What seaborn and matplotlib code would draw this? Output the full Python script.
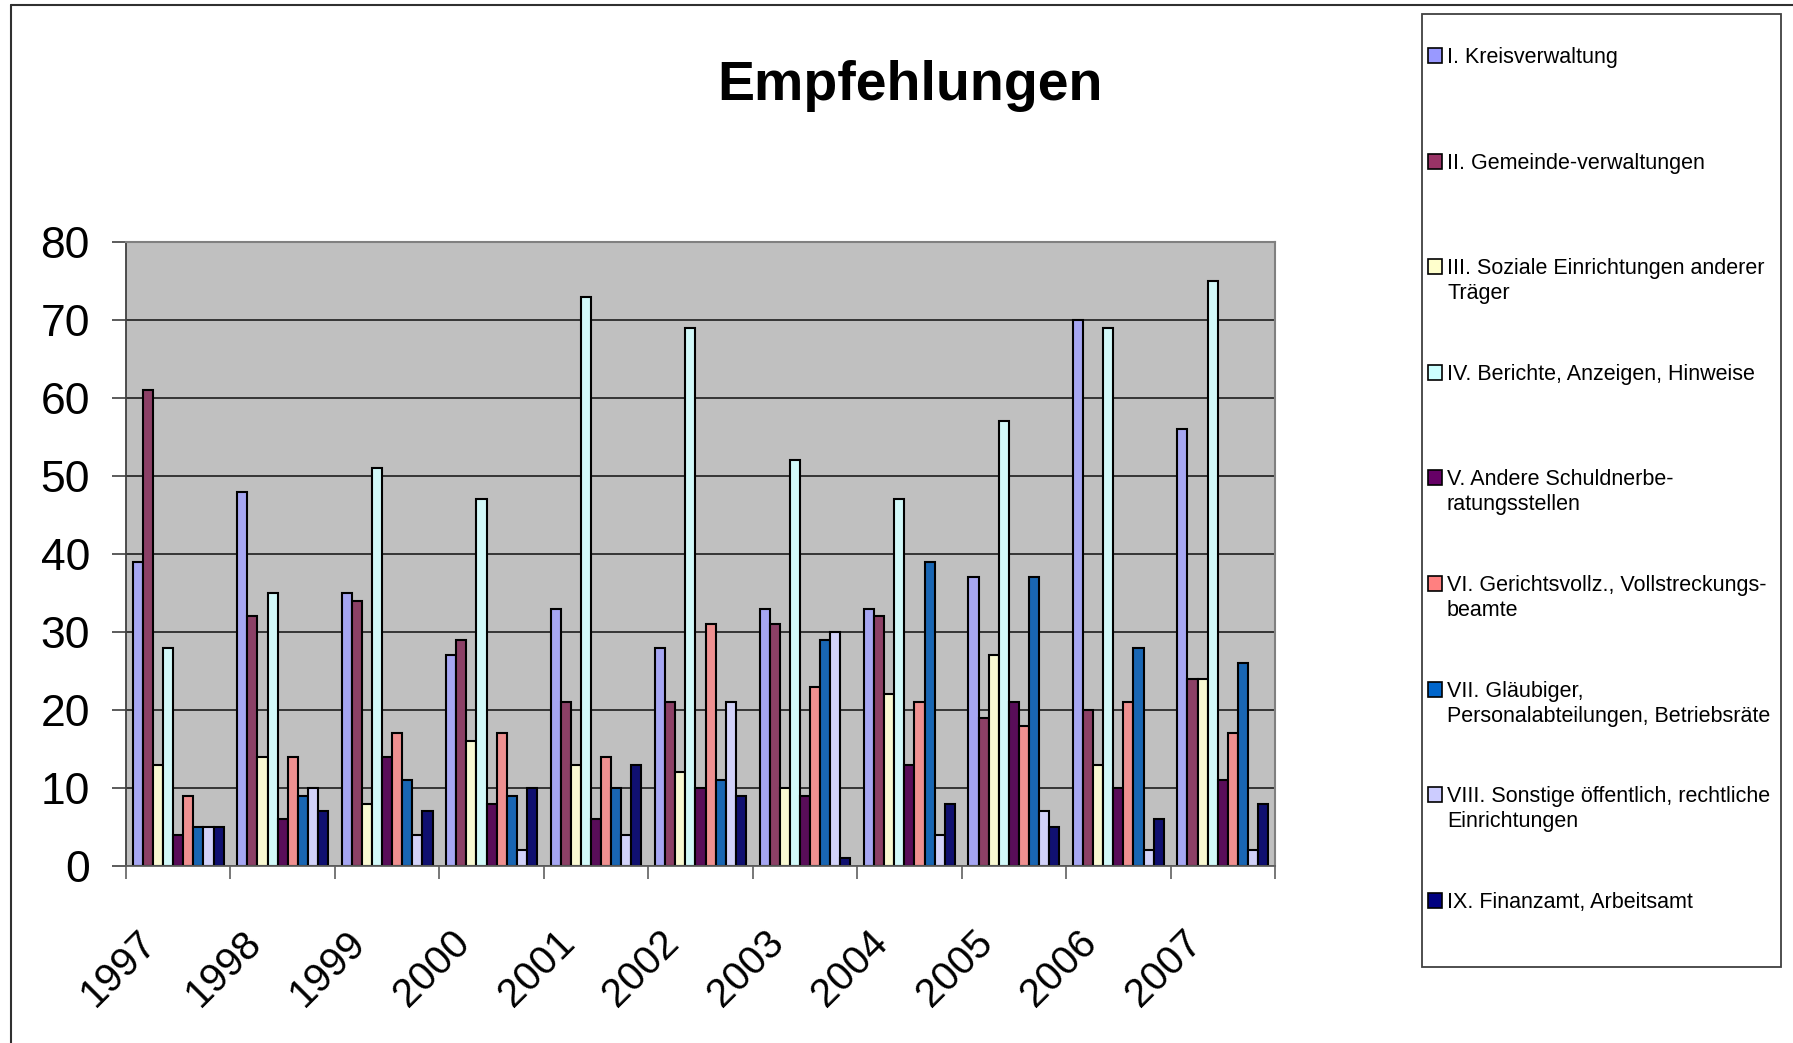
import numpy as np
import pandas as pd
import seaborn as sns
import matplotlib.pyplot as plt
from matplotlib.patches import Rectangle
from matplotlib.lines import Line2D
from matplotlib.transforms import ScaledTranslation

# Jahre und Kategorien
years = ["1997", "1998", "1999", "2000", "2001", "2002",
         "2003", "2004", "2005", "2006", "2007"]

labels = [
    "I. Kreisverwaltung",
    "II. Gemeinde-verwaltungen",
    "III. Soziale Einrichtungen anderer\nTräger",
    "IV. Berichte, Anzeigen, Hinweise",
    "V. Andere Schuldnerbe-\nratungsstellen",
    "VI. Gerichtsvollz., Vollstreckungs-\nbeamte",
    "VII. Gläubiger,\nPersonalabteilungen, Betriebsräte",
    "VIII. Sonstige öffentlich, rechtliche\nEinrichtungen",
    "IX. Finanzamt, Arbeitsamt",
]

# Werte je Kategorie
kreis = [39, 48, 35, 27, 33, 28, 33, 33, 37, 70, 56]
gemeinde = [61, 32, 34, 29, 21, 21, 31, 32, 19, 20, 24]
soziale = [13, 14, 8, 16, 13, 12, 10, 22, 27, 13, 24]
berichte = [28, 35, 51, 47, 73, 69, 52, 47, 57, 69, 75]
andere = [4, 6, 14, 8, 6, 10, 9, 13, 21, 10, 11]
gericht = [9, 14, 17, 17, 14, 31, 23, 21, 18, 21, 17]
glaeubiger = [5, 9, 11, 9, 10, 11, 29, 39, 37, 28, 26]
sonstige = [5, 10, 4, 2, 4, 21, 30, 4, 7, 2, 2]
finanzamt = [5, 7, 7, 10, 13, 9, 1, 8, 5, 6, 8]

series = [kreis, gemeinde, soziale, berichte, andere,
          gericht, glaeubiger, sonstige, finanzamt]

colors = ["#9999FF", "#993366", "#FFFFCC", "#CCFFFF", "#660066",
          "#FF8080", "#0066CC", "#CCCCFF", "#000080"]

rows = []
for lab, vals in zip(labels, series):
    for y, v in zip(years, vals):
        rows.append({"Jahr": y, "Kategorie": lab, "Wert": v})
df = pd.DataFrame(rows)

sns.set_style("white")
plt.rcParams['font.family'] = ['Liberation Sans', 'DejaVu Sans']
plt.rcParams['text.color'] = 'black'
plt.rcParams['xtick.color'] = 'black'
plt.rcParams['ytick.color'] = 'black'

W, H = 1793, 1043
fig = plt.figure(figsize=(W / 100, H / 100), dpi=100)
ax = fig.add_axes([126 / W, 1 - 866 / H, (1275 - 126) / W, (866 - 242) / H])
ax.set_facecolor("#C0C0C0")

sns.barplot(data=df, x="Jahr", y="Wert", hue="Kategorie", order=years,
            hue_order=labels, palette=colors, width=0.87,
            edgecolor="black", linewidth=1.5, legend=False, ax=ax)

ax.set_xlim(-0.5, 10.5)
ax.set_ylim(0, 80)
ax.set_yticks(range(0, 81, 10))
ax.yaxis.grid(True, color="#2a2a2a", linewidth=1.3)
ax.set_axisbelow(True)
ax.set_xlabel("")
ax.set_ylabel("")

for side in ["top", "right"]:
    ax.spines[side].set_color("#808080")
    ax.spines[side].set_linewidth(1.5)
ax.spines["left"].set_color("#404040")
ax.spines["bottom"].set_color("#606060")
ax.spines["left"].set_linewidth(1.3)
ax.spines["bottom"].set_linewidth(1.3)

ax.tick_params(axis="y", labelsize=32, length=10, width=1.2,
               color="#404040", labelcolor="black", pad=16,
               direction="out", left=True)
ax.set_xticks(np.arange(-0.5, 11, 1), minor=True)
ax.tick_params(axis="x", which="minor", length=9.5, width=1.2,
               color="#606060", direction="out", bottom=True)
ax.tick_params(axis="x", which="major", length=0, pad=41, labelsize=29,
               labelcolor="black")
ax.set_xticks(range(len(years)))
ax.set_xticklabels(years, rotation=45, ha="right", va="top")
shift = ScaledTranslation(-0.14, 0, fig.dpi_scale_trans)
for t in ax.get_xticklabels():
    t.set_transform(t.get_transform() + shift)

# Titel
fig.text(910 / W, 1 - 100 / H, "Empfehlungen", ha="center", va="baseline",
         fontsize=40, fontweight="bold", color="black")

# Rahmen oben und links
fig.add_artist(Line2D([11 / W, 1], [1 - 5 / H, 1 - 5 / H],
                      transform=fig.transFigure, color="#303030", lw=1.5))
fig.add_artist(Line2D([11 / W, 11 / W], [0, 1 - 5 / H],
                      transform=fig.transFigure, color="#303030", lw=1.5))

# Legende
fig.add_artist(Rectangle((1422 / W, 1 - 967 / H), (1781 - 1422) / W,
                         (967 - 14) / H, transform=fig.transFigure,
                         facecolor="white", edgecolor="#404040", lw=1.3))
step = 105.6
for i, (lab, c) in enumerate(zip(labels, colors)):
    top = 48 + step * i
    fig.add_artist(Rectangle((1428 / W, 1 - (top + 15) / H), 14 / W, 15 / H,
                             transform=fig.transFigure, facecolor=c,
                             edgecolor="black", lw=1.2))
    fig.text(1447 / W, 1 - (top - 1) / H, lab, ha="left", va="top",
             fontsize=15.5, linespacing=1.25, color="black")

fig.savefig("out.png", dpi=100)
